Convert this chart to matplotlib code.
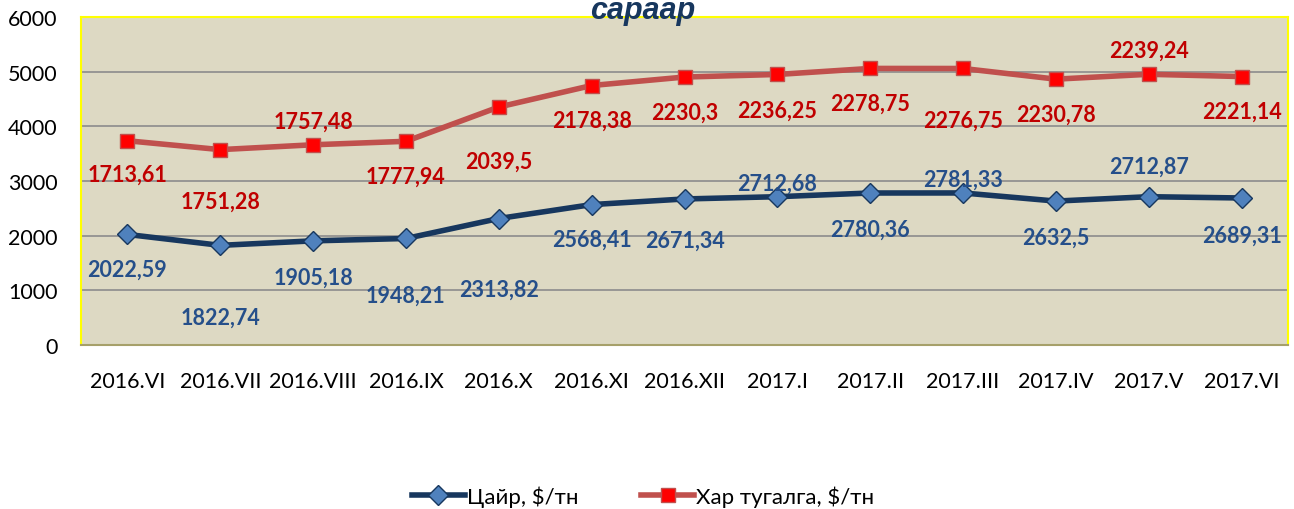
import matplotlib.pyplot as plt

months = ["2016.VI", "2016.VII", "2016.VIII", "2016.IX", "2016.X", "2016.XI", "2016.XII",
          "2017.I", "2017.II", "2017.III", "2017.IV", "2017.V", "2017.VI"]
zinc = [2022.59, 1822.74, 1905.18, 1948.21, 2313.82, 2568.41, 2671.34,
        2712.68, 2780.36, 2781.33, 2632.5, 2712.87, 2689.31]
lead = [1713.61, 1751.28, 1757.48, 1777.94, 2039.5, 2178.38, 2230.3,
        2236.25, 2278.75, 2276.75, 2230.78, 2239.24, 2221.14]

# label offsets in points (vertical), positive = below the point
zinc_off = [25, 52, 26, 41, 51, 25, 30, -10, 26, -10, 26, -22, 27]
lead_off = [24, 37, -17, 25, 39, 25, 25, 26, 25, 37, 25, -17, 25]

def fmt(v):
    s = ("%.2f" % v).rstrip("0").rstrip(".")
    return s.replace(".", ",")

plt.rcParams['font.family'] = ['Lato', 'DejaVu Sans']

fig = plt.figure(figsize=(12.94, 5.10), dpi=100)
ax = fig.add_axes([81 / 1294, 1 - 346 / 510, (1288 - 81) / 1294, (346 - 18) / 510])
ax.set_facecolor('#DDD9C3')

x = list(range(len(months)))
stacked = [a + b for a, b in zip(zinc, lead)]

ax.plot(x, zinc, color='#17375E', lw=4, marker='D', ms=10, mfc='#4F81BD', mec='#17375E',
        mew=1, label='Цайр, $/тн', zorder=3)
ax.plot(x, stacked, color='#C0504D', lw=4, marker='s', ms=10, mfc='#FF0000', mec='#C0504D',
        mew=1, label='Хар тугалга, $/тн', zorder=3)

for i in x:
    ax.annotate(fmt(zinc[i]), (i, zinc[i]), xytext=(0, -zinc_off[i]), textcoords='offset points',
                ha='center', va='center', fontsize=15.5, fontweight='bold', color='#254F8A')
    ax.annotate(fmt(lead[i]), (i, stacked[i]), xytext=(0, -lead_off[i]), textcoords='offset points',
                ha='center', va='center', fontsize=15.5, fontweight='bold', color='#C00000')

ax.set_xlim(-0.5, len(months) - 0.5)
ax.set_ylim(0, 6000)
ax.set_yticks(range(0, 6001, 1000))
ax.set_xticks(x)
ax.set_xticklabels(months)
ax.tick_params(axis='both', length=0, labelsize=15.5)
ax.tick_params(axis='y', pad=17)
ax.tick_params(axis='x', pad=19)
ax.grid(axis='y', color='#8C8C8C', lw=1.2)
ax.set_axisbelow(True)

for s in ['top', 'left', 'right']:
    ax.spines[s].set_color('#FFFF00')
    ax.spines[s].set_linewidth(1.5)
ax.spines['bottom'].set_color('#A6A06A')
ax.spines['bottom'].set_linewidth(1.5)

fig.text(0.497, 1 - 11 / 510, 'сараар', ha='center', va='center', fontsize=22,
         fontweight='bold', style='italic', color='#17375E', family=['Liberation Sans', 'DejaVu Sans'])

fig.legend(loc='center', bbox_to_anchor=(0.497, 1 - 497 / 510), ncol=2, frameon=False,
           fontsize=16, handlelength=2.4, columnspacing=2.8, handletextpad=0.1)

fig.savefig('out.png', dpi=100)
